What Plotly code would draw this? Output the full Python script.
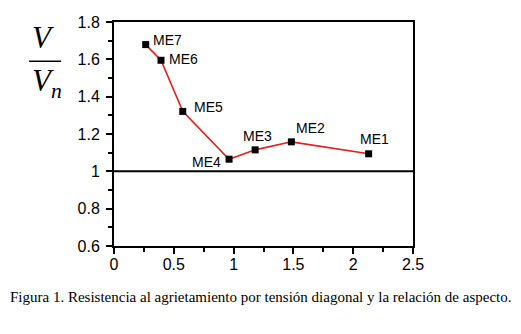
import plotly.graph_objects as go

labels = ["ME7", "ME6", "ME5", "ME4", "ME3", "ME2", "ME1"]
aspect = [0.265, 0.393, 0.575, 0.962, 1.18, 1.483, 2.129]
ratio = [1.679, 1.595, 1.321, 1.065, 1.115, 1.158, 1.094]

x_ticks = [0, 0.5, 1, 1.5, 2, 2.5]
x_tick_text = ["0", "0.5", "1", "1.5", "2", "2.5"]
y_ticks = [0.6, 0.8, 1.0, 1.2, 1.4, 1.6, 1.8]
y_tick_text = ["0.6", "0.8", "1", "1.2", "1.4", "1.6", "1.8"]

# label offsets (pixels) relative to each point
label_dx = [22, 22, 26, -23, 2, 19, 6]
label_dy = [5, 1, 4, -3, 14, 14, 15]

fig = go.Figure()
fig.add_trace(go.Scatter(
    x=aspect, y=ratio, mode="lines+markers",
    line=dict(color="#e0201c", width=1.6),
    marker=dict(symbol="square", size=7, color="black"),
    cliponaxis=False, showlegend=False,
))

for lab, xv, yv, dx, dy in zip(labels, aspect, ratio, label_dx, label_dy):
    fig.add_annotation(x=xv, y=yv, text=lab, showarrow=False, xshift=dx, yshift=dy,
                       font=dict(family="Liberation Sans, Arial", size=14, color="black"),
                       xanchor="center", yanchor="middle")

fig.add_shape(type="line", xref="x domain", yref="y", x0=0, x1=1, y0=1, y1=1,
              line=dict(color="black", width=2))

axis_common = dict(showline=True, linecolor="black", linewidth=2, mirror=True,
                   ticks="outside", ticklen=6, tickwidth=1.5, tickcolor="black",
                   showgrid=False, zeroline=False, automargin=False,
                   tickfont=dict(family="Liberation Sans, Arial", size=16, color="black"))

fig.update_xaxes(range=[0, 2.5], tickvals=x_ticks, ticktext=x_tick_text, ticklabelstandoff=-3,
                 minor=dict(ticks="outside", ticklen=4, dtick=0.25, tickcolor="black", tickwidth=1.5),
                 **axis_common)
fig.update_yaxes(range=[0.6, 1.8], tickvals=y_ticks, ticktext=y_tick_text, ticklabelstandoff=3,
                 minor=dict(ticks="outside", ticklen=4, dtick=0.1, tickcolor="black", tickwidth=1.5),
                 **axis_common)

# y-axis title as a fraction V / V_n
serif = "Liberation Serif, Times New Roman"
fig.add_annotation(xref="paper", yref="paper", x=-0.236, y=0.932, text="<i>V</i>",
                   showarrow=False, font=dict(family=serif, size=31, color="black"),
                   xanchor="center", yanchor="middle")
fig.add_annotation(xref="paper", yref="paper", x=-0.225, y=0.729, text="<i>V<sub>n</sub></i>",
                   showarrow=False, font=dict(family=serif, size=31, color="black"),
                   xanchor="center", yanchor="middle")
fig.add_shape(type="line", xref="paper", yref="paper", x0=-0.284, x1=-0.177, y0=0.825, y1=0.825,
              line=dict(color="black", width=1.5))

fig.add_annotation(xref="paper", yref="paper", x=0.49, y=-0.227,
                   text="Figura 1. Resistencia al agrietamiento por tensión diagonal y la relación de aspecto.",
                   showarrow=False, font=dict(family=serif, size=15, color="black"),
                   xanchor="center", yanchor="middle")

# page body adds an 8px offset, so margins are shifted accordingly
fig.update_layout(width=521, height=334, margin=dict(l=106, r=116, t=14, b=96),
                  plot_bgcolor="white", paper_bgcolor="white")

fig.write_html("out.html")
